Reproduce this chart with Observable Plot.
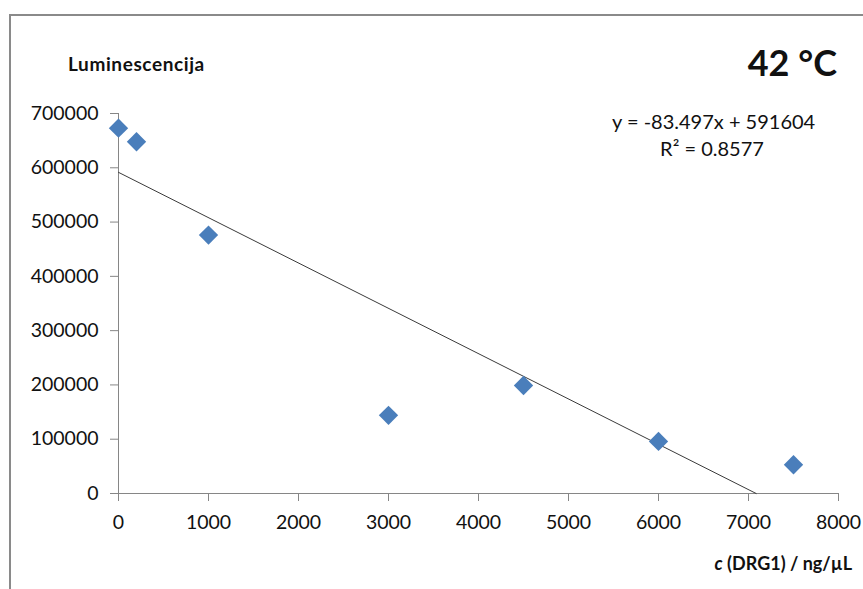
<!DOCTYPE html>
<html>
<head>
<meta charset="utf-8">
<script src="https://cdn.jsdelivr.net/npm/d3@7"></script>
<script src="https://cdn.jsdelivr.net/npm/@observablehq/plot@0.6"></script>
<style>
  html, body { margin: 0; padding: 0; background: #fff; overflow: hidden; }
  #wrap { position: relative; width: 863px; height: 589px; overflow: hidden; font-family: Lato, "Open Sans", sans-serif; color: #111; }
  #frame { position: absolute; left: 9px; top: 14px; width: 1000px; height: 800px; border: 2px solid #8a8a8a; box-sizing: border-box; }
  #chart { position: absolute; left: 0; top: 0; }
  .lbl { position: absolute; white-space: nowrap; line-height: 1; }
  #title { left: 68px; top: 54px; font-weight: bold; font-size: 19px; letter-spacing: 0.6px; }
  #temp { right: 26px; top: 44px; font-weight: bold; font-size: 36px; }
  #eq { left: 612px; width: 200px; top: 108px; text-align: center; font-size: 20px; line-height: 27px; }
  #xlab { right: 11px; top: 554px; font-weight: bold; font-size: 18px; }
  svg g[aria-label="x-axis tick"] path, svg g[aria-label="y-axis tick"] path { stroke: #868686; }
</style>
</head>
<body>
<div id="wrap">
  <div id="frame"></div>
  <div id="chart"></div>
  <div class="lbl" id="title">Luminescencija</div>
  <div class="lbl" id="temp">42 °C</div>
  <div class="lbl" id="eq">y = -83.497x + 591604<br>R² = 0.8577</div>
  <div class="lbl" id="xlab"><i>c</i> (DRG1) / ng/µL</div>
</div>
<script>
// Data
const concentration = [0, 200, 1000, 3000, 4500, 6000, 7500];
const luminescence = [673000, 648000, 476000, 144000, 199000, 96000, 53000];
// Trendline (from the displayed equation)
const slope = -83.497;
const intercept = 591604;
// Tick labels
const xTicks = [0, 1000, 2000, 3000, 4000, 5000, 6000, 7000, 8000];
const yTicks = [0, 100000, 200000, 300000, 400000, 500000, 600000, 700000];

const points = concentration.map((c, i) => ({x: c, y: luminescence[i]}));
const trend = [
  {x: 0, y: intercept},
  {x: -intercept / slope, y: 0}
];

const chart = Plot.plot({
  width: 863,
  height: 589,
  marginLeft: 118,
  marginRight: 25,
  marginTop: 113,
  marginBottom: 96,
  style: {fontFamily: "Lato, 'Open Sans', sans-serif", fontSize: "19.5px", color: "#111", background: "transparent", overflow: "visible"},
  x: {domain: [0, 8000], ticks: xTicks, tickSize: 8, tickPadding: 14, tickFormat: d3.format("d"), label: null},
  y: {domain: [0, 700000], ticks: yTicks, tickSize: 8, tickPadding: 12, tickFormat: d3.format("d"), label: null},
  marks: [
    Plot.ruleY([0], {stroke: "#868686", strokeWidth: 1}),
    Plot.ruleX([0], {stroke: "#868686", strokeWidth: 1}),
    Plot.line(trend, {x: "x", y: "y", stroke: "#3a3a3a", strokeWidth: 1}),
    Plot.dot(points, {x: "x", y: "y", symbol: "diamond2", r: 8.7, fill: "#4a7ebb", stroke: "none"})
  ]
});
document.getElementById("chart").appendChild(chart);
</script>
</body>
</html>
